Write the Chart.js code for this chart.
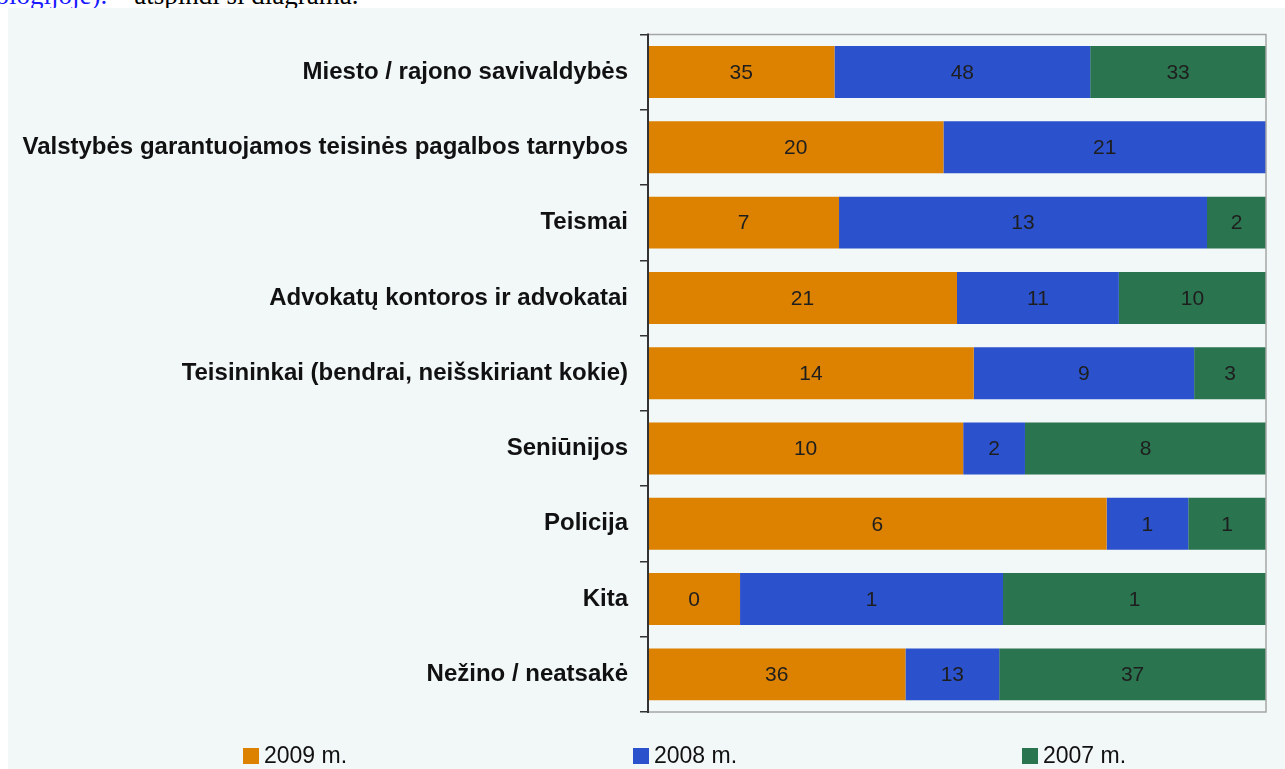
<!DOCTYPE html>
<html>
<head>
<meta charset="utf-8">
<script src="https://cdn.jsdelivr.net/npm/chart.js@4.4.0/dist/chart.umd.min.js"></script>
<style>
  html, body { margin: 0; padding: 0; background: #ffffff; width: 1285px; height: 769px; overflow: hidden; }
  #toptext { position: absolute; left: -72px; top: -20px; font-family: "Liberation Serif", "DejaVu Serif", serif; font-size: 27px; white-space: nowrap; z-index: 1; color: #000; }
  #toptext .blue { color: #1a1aff; }
  #wrap { position: absolute; left: 8px; top: 8px; width: 1277px; height: 761px; background: #f2f7f7; z-index: 2; }
  #legend { position: absolute; left: 0; top: 0; width: 1285px; height: 769px; pointer-events: none; z-index: 3; }
  .li { position: absolute; top: 742px; font-family: "Liberation Sans", Arial, sans-serif; font-size: 23px; color: #111; white-space: nowrap; line-height: 26px; }
  .li span.box { display: inline-block; width: 16px; height: 16px; margin-right: 5px; vertical-align: -1px; }
</style>
</head>
<body>
<div id="toptext"><span class="blue">metodologijoje).</span> – atspindi ši diagrama.</div>
<div id="wrap"><canvas id="c"></canvas></div>
<div id="legend"></div>
<script>
const categories = [
  "Miesto / rajono savivaldybės",
  "Valstybės garantuojamos teisinės pagalbos tarnybos",
  "Teismai",
  "Advokatų kontoros ir advokatai",
  "Teisininkai (bendrai, neišskiriant kokie)",
  "Seniūnijos",
  "Policija",
  "Kita",
  "Nežino / neatsakė"
];
const seriesNames = ["2009 m.", "2008 m.", "2007 m."];
const seriesColors = ["#dc8200", "#2b52cc", "#2a744f"];
const values2009 = [35, 19.6, 6.8, 21, 13.6, 10.2, 5.9, 0.35, 35.7];
const values2008 = [48, 21.4, 13.1, 11, 9.2, 2, 1.05, 1, 13];
const values2007 = [33, 0, 2.1, 10, 3, 7.8, 1, 1, 37];
const legendLeft = [243, 633, 1022];

const raw = [values2009, values2008, values2007];
const totals = categories.map((_, i) => raw.reduce((s, arr) => s + arr[i], 0));
const pct = raw.map(arr => arr.map((v, i) => v / totals[i] * 100));

const labelPlugin = {
  id: 'segLabels',
  afterDatasetsDraw(chart) {
    const ctx = chart.ctx;
    ctx.save();
    ctx.font = '21px "Liberation Sans", Arial, sans-serif';
    ctx.fillStyle = '#1e1e1e';
    ctx.textAlign = 'center';
    ctx.textBaseline = 'middle';
    chart.data.datasets.forEach((ds, di) => {
      const meta = chart.getDatasetMeta(di);
      meta.data.forEach((bar, i) => {
        const v = raw[di][i];
        if (v <= 0) return;
        const x = (bar.x + bar.base) / 2;
        ctx.fillText(String(Math.round(v)), x, bar.y + 1);
      });
    });
    ctx.restore();
  }
};

const framePlugin = {
  id: 'frame',
  afterDatasetsDraw(chart) {
    const a = chart.chartArea;
    const ctx = chart.ctx;
    ctx.save();
    ctx.strokeStyle = '#a6a6a6';
    ctx.lineWidth = 1.5;
    ctx.beginPath();
    ctx.moveTo(a.left, a.top);
    ctx.lineTo(a.right, a.top);
    ctx.lineTo(a.right, a.bottom);
    ctx.lineTo(a.left, a.bottom);
    ctx.stroke();
    ctx.strokeStyle = '#333333';
    ctx.lineWidth = 2;
    ctx.beginPath();
    ctx.moveTo(a.left, a.top - 1);
    ctx.lineTo(a.left, a.bottom + 1);
    ctx.stroke();
    ctx.restore();
  }
};

new Chart(document.getElementById('c'), {
  type: 'bar',
  data: {
    labels: categories,
    datasets: seriesNames.map((n, k) => ({
      label: n,
      data: pct[k],
      backgroundColor: seriesColors[k],
      borderWidth: 0,
      barPercentage: 0.69,
      categoryPercentage: 1.0
    }))
  },
  options: {
    indexAxis: 'y',
    responsive: true,
    maintainAspectRatio: false,
    animation: false,
    layout: { padding: { top: 26, right: 19, bottom: 57, left: 0 } },
    plugins: { legend: { display: false }, tooltip: { enabled: false } },
    scales: {
      x: { stacked: true, min: 0, max: 100, display: false },
      y: {
        stacked: true,
        afterFit(scale) { scale.width = 640; },
        border: { display: false },
        grid: { drawOnChartArea: false, drawTicks: true, tickLength: 8, color: '#333333', lineWidth: 1.5, offset: true },
        ticks: {
          padding: 12,
          color: '#111111',
          font: { family: '"Liberation Sans", Arial, sans-serif', size: 24, weight: 'bold' },
          autoSkip: false
        }
      }
    }
  },
  plugins: [labelPlugin, framePlugin]
});

const lg = document.getElementById('legend');
seriesNames.forEach((n, k) => {
  const d = document.createElement('div');
  d.className = 'li';
  d.style.left = legendLeft[k] + 'px';
  d.innerHTML = '<span class="box" style="background:' + seriesColors[k] + '"></span>' + n;
  lg.appendChild(d);
});
</script>
</body>
</html>
